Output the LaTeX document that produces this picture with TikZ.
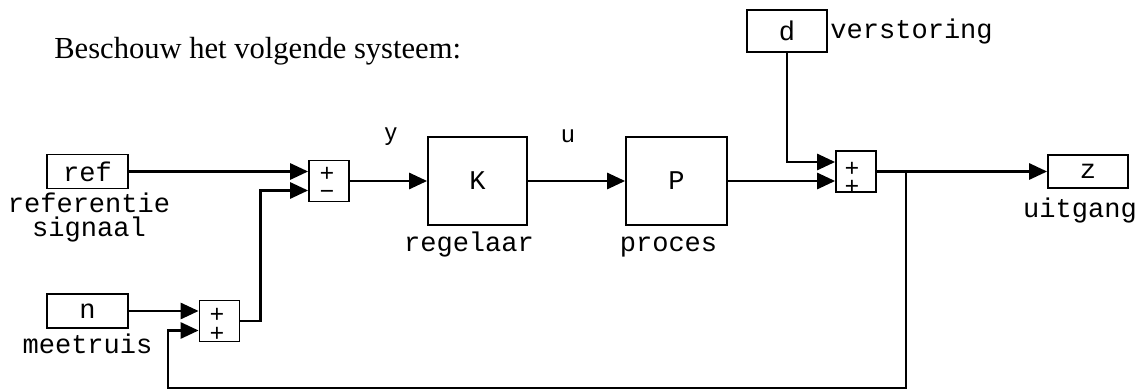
\documentclass[tikz,border=0pt]{standalone}
\usepackage{fontspec}
\setmainfont{Liberation Serif}
\setsansfont{Liberation Sans}
\setmonofont{Liberation Mono}
\usetikzlibrary{arrows.meta}

\begin{document}
\begin{tikzpicture}[x=0.02cm, y=-0.02cm,
        blok/.style={draw, rectangle, line width=1pt, inner sep=0pt, font=\ttfamily\fontsize{15.4}{16}\selectfont},
        som/.style={draw, rectangle, line width=1pt, inner sep=0pt, minimum width=0.8cm, minimum height=0.82cm},
        teken/.style={inner sep=0pt, anchor=base, align=center, font=\ttfamily\fontsize{14}{10.8}\selectfont},
        tekst/.style={inner sep=0pt, anchor=base, align=center, font=\ttfamily\fontsize{15.4}{13.7}\selectfont},
        pijl/.style={line width=1.6pt, -{Triangle[length=0.36cm, width=0.32cm]}}]
    \useasboundingbox (0,0) rectangle (1142,391);

    \node[inner sep=0pt, anchor=base west, font=\fontsize{17.4}{20}\selectfont] (titel) at (54,59) {Beschouw het volgende systeem:};

    % ingangen en uitgang
    \node[blok, minimum width=1.62cm, minimum height=0.68cm] (ref) at (87.5,171.5) {ref};
    \node[blok, minimum width=1.62cm, minimum height=0.68cm] (n) at (87.5,311) {n};
    \node[blok, minimum width=1.6cm, minimum height=0.84cm] (d) at (787,31) {d};
    \node[blok, minimum width=1.6cm, minimum height=0.66cm] (z) at (1088,171.5) {z};

    % regelaar en proces
    \node[blok, minimum width=1.98cm, minimum height=1.76cm] (K) at (477.5,181) {K};
    \node[blok, minimum width=2.02cm, minimum height=1.76cm] (P) at (676.5,181) {P};

    % sommatiepunten met hun tekens
    \node[som] (s1) at (329,181) {};
    \node[som] (s2) at (219.5,321) {};
    \node[som] (s3) at (856,171.5) {};
    \node[teken] (s1t) at (327,200) {+\\−};
    \node[teken] (s2t) at (217,341) {+\\+};
    \node[teken] (s3t) at (852,195) {+\\+};

    % teksten
    \node[tekst] (reftekst) at (89,237) {referentie\\signaal};
    \node[tekst] (ntekst) at (87.5,354) {meetruis};
    \node[tekst] (Ktekst) at (469,252) {regelaar};
    \node[tekst] (Ptekst) at (668.5,252) {proces};
    \node[tekst] (ztekst) at (1080,218) {uitgang};
    \node[tekst, anchor=base west] (dtekst) at (830,39) {verstoring};
    \node[inner sep=0pt, anchor=base, font=\sffamily\fontsize{13.7}{16}\selectfont] (ylabel) at (391,140.5) {y};
    \node[inner sep=0pt, anchor=base, font=\sffamily\fontsize{13.7}{16}\selectfont] (ulabel) at (568,143) {u};

    \coordinate (tak) at (906,171.5);
    \coordinate (terug) at (168,388);

    % verbindingen
    \draw[pijl] (ref.east) -- (ref.east -| s1.west);
    \draw[pijl] (n.east) -- (n.east -| s2.west);
    \draw[pijl] (s2.east) -- ++(20,0) |- ([yshift=-0.19cm]s1.west);
    \draw[pijl] (s1) -- (K);
    \draw[pijl] (K) -- (P);
    \draw[pijl] (P.east) -- (P.east -| s3.west);
    \draw[pijl] (d.south) |- ([yshift=0.19cm]s3.west);
    \draw[pijl] (s3) -- (z);
    \draw[pijl] (tak) |- (terug) |- ([yshift=-0.19cm]s2.west);
\end{tikzpicture}
\end{document}
